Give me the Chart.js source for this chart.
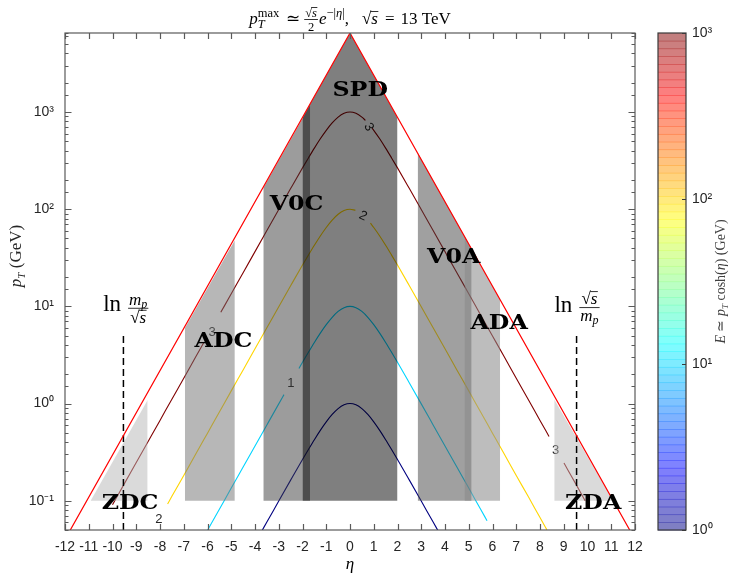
<!DOCTYPE html>
<html>
<head>
<meta charset="utf-8" />
<title>pT max vs eta</title>
<script src="https://cdn.jsdelivr.net/npm/chart.js@4.4.1/dist/chart.umd.min.js"></script>
<style>
  body { margin: 0; background: #fff; }
  canvas { display: block; }
</style>
</head>
<body>
<canvas id="c" width="734" height="575"></canvas>
<script>
// kinematic limit pT = sqrt(s)/2 * exp(-|eta|), sqrt(s) = 13 TeV
const etaEdge = [-12, 0, 12];
const ptEdge = [0.04, 6500, 0.04];

// beam rapidity ln(sqrt(s)/m_p)
const etaBeam = 9.54;
const ptBeamLine = [0.05, 5];

// detector acceptance patches (eta, upper pT), filled down to 0.1 GeV
const detNames = ['ADA', 'V0A', 'SPD', 'V0C', 'ADC', 'ZDC', 'ZDA'];
const detEta = [[4.82, 6.32], [2.85, 5.12], [-2, 0, 2], [-3.65, -1.68], [-6.95, -4.85], [-10.92, -8.52], [8.6, 11.08]];
const detTop = [[52, 11.7], [380, 39], [880, 6500, 880], [165, 1180], [6.0, 48], [0.1, 1.09], [1.1, 0.1]];
const detFill = ['rgba(137,137,137,0.56)', 'rgba(65,65,65,0.5)', 'rgba(0,0,0,0.5)', 'rgba(58,58,58,0.5)',
                 'rgba(112,112,112,0.5)', 'rgba(182,182,182,0.5)', 'rgba(182,182,182,0.5)'];
const detFloor = 0.1;

// detector name positions (centre eta, baseline pT)
const tagNames = ['SPD', 'V0C', 'V0A', 'ADC', 'ADA', 'ZDC', 'ZDA'];
const tagEta = [0.43, -2.25, 4.37, -5.33, 6.28, -9.26, 10.24];
const tagPt = [1475, 99, 28.1, 3.79, 5.8, 0.082, 0.082];

// iso-energy contours E = pT cosh(eta) (null = label gap)
const etaE1 = [-3.7, -3.5, -3, -2.5, -2, -1.75, -1.5, -1.25, -1, -0.75, -0.5, -0.25, 0, 0.25, 0.5, 0.75, 1, 1.25, 1.5, 1.75, 2, 2.5, 3, 3.5, 3.7];
const ptE1 = [0.0495, 0.0603, 0.0993, 0.163, 0.266, 0.337, 0.425, 0.530, 0.648, 0.772, 0.887, 0.970, 1, 0.970, 0.887, 0.772, 0.648, 0.530, 0.425, 0.337, 0.266, 0.163, 0.0993, 0.0603, 0.0495];

const etaE10 = [-6, -5.5, -5, -4.5, -4, -3.5, -3, -2.78, -2.5, -2.15, -2, -1.75, -1.5, -1.25, -1, -0.75, -0.5, -0.25, 0, 0.25, 0.5, 0.75, 1, 1.25, 1.5, 1.75, 2, 2.5, 3, 3.5, 4, 4.5, 5, 5.5, 5.77];
const ptE10 = [0.0496, 0.0817, 0.135, 0.222, 0.366, 0.603, 0.993, 1.236, null, 2.30, 2.66, 3.37, 4.25, 5.30, 6.48, 7.72, 8.87, 9.70, 10, 9.70, 8.87, 7.72, 6.48, 5.30, 4.25, 3.37, 2.66, 1.63, 0.993, 0.603, 0.366, 0.222, 0.135, 0.0817, 0.0624];

const etaE100 = [-7.68, -7.5, -7, -6.5, -6, -5.5, -5, -4.5, -4, -3.5, -3, -2.5, -2, -1.75, -1.5, -1.25, -1, -0.75, -0.5, -0.25, 0, 0.23, 0.5, 0.86, 1, 1.25, 1.5, 1.75, 2, 2.5, 3, 3.5, 4, 4.5, 5, 5.5, 6, 6.5, 7, 7.5, 8, 8.29];
const ptE100 = [0.0924, 0.111, 0.182, 0.301, 0.496, 0.817, 1.35, 2.22, 3.66, 6.03, 9.93, 16.3, 26.6, 33.7, 42.5, 53.0, 64.8, 77.2, 88.7, 97.0, 100, 97.4, null, 71.8, 64.8, 53.0, 42.5, 33.7, 26.6, 16.3, 9.93, 6.03, 3.66, 2.22, 1.35, 0.817, 0.496, 0.301, 0.182, 0.111, 0.0671, 0.0502];

const etaE1000 = [-10, -9.5, -9, -8.5, -8, -7.5, -7, -6.5, -6.15, -5.8, -5.44, -5, -4.5, -4, -3.5, -3, -2.5, -2, -1.75, -1.5, -1.25, -1, -0.75, -0.5, -0.25, 0, 0.25, 0.5, 0.65, 0.8, 0.93, 1, 1.25, 1.5, 1.75, 2, 2.5, 3, 3.5, 4, 4.5, 5, 5.5, 6, 6.5, 7, 7.5, 8, 8.38, 8.7, 9.01, 9.5, 9.9];
const ptE1000 = [0.0908, 0.150, 0.247, 0.407, 0.671, 1.11, 1.82, 3.01, 4.27, null, 8.68, 13.5, 22.2, 36.6, 60.3, 99.3, 163, 266, 337, 425, 530, 648, 772, 887, 970, 1000, 970, 887, 820, null, 683, 648, 530, 425, 337, 266, 163, 99.3, 60.3, 36.6, 22.2, 13.5, 8.17, 4.96, 3.01, 1.82, 1.11, 0.671, 0.459, null, 0.244, 0.150, 0.100];

// contour labels (log10 E)
const cLabelText = ['3', '2', '1', '3', '3', '2'];
const cLabelEta = [0.79, 0.55, -2.49, -5.81, 8.66, -8.05];
const cLabelPt = [700, 85, 1.62, 5.44, 0.333, 0.065];
const cLabelRot = [60, 25, 0, 0, 0, 0];

// colorbar
const cbMin = 1, cbMax = 1000;

function jet(v) {
  const cl = t => Math.max(0, Math.min(1, t));
  return [cl(1.5 - Math.abs(4 * v - 3)), cl(1.5 - Math.abs(4 * v - 2)), cl(1.5 - Math.abs(4 * v - 1))];
}
function jetCss(v, a) {
  const c = jet(v).map(t => Math.round(t * 255));
  return a === undefined ? `rgb(${c[0]},${c[1]},${c[2]})` : `rgba(${c[0]},${c[1]},${c[2]},${a})`;
}
const pts = (xs, ys) => xs.map((x, i) => ({ x: x, y: ys[i] }));
const sup = { '0': '⁰', '1': '¹', '2': '²', '3': '³', '-': '⁻' };
function powLabel(v) {
  const l = Math.log10(v);
  if (Math.abs(l - Math.round(l)) > 1e-9) return '';
  return '10' + String(Math.round(l)).split('').map(ch => sup[ch]).join('');
}

const datasets = [];
datasets.push({ data: pts(etaEdge, ptEdge), borderColor: '#ff0000', borderWidth: 1.2 });
datasets.push({ data: pts([-etaBeam, -etaBeam], ptBeamLine), borderColor: '#000', borderWidth: 1.5, borderDash: [7, 4] });
datasets.push({ data: pts([etaBeam, etaBeam], ptBeamLine), borderColor: '#000', borderWidth: 1.5, borderDash: [7, 4] });
detNames.forEach((n, i) => {
  datasets.push({ label: n, data: pts(detEta[i], detTop[i]), borderWidth: 0, borderColor: 'rgba(0,0,0,0)',
                  backgroundColor: detFill[i], fill: { value: detFloor } });
});
const IDX_LAST_CONTOUR = datasets.length;
[[etaE1000, ptE1000, 1], [etaE100, ptE100, 2 / 3], [etaE10, ptE10, 1 / 3], [etaE1, ptE1, 0]].forEach(c => {
  datasets.push({ data: pts(c[0], c[1]), borderColor: jetCss(c[2]), borderWidth: 1.1, cubicInterpolationMode: 'monotone' });
});
datasets.forEach(d => { d.pointRadius = 0; d.xAxisID = 'x'; d.yAxisID = 'y'; });

// ---- little math-text helper ----
const F = (style, size) => `${style} ${size}px "Liberation Serif"`;
function rich(ctx, items, x, y, draw) {
  let cx = x;
  for (const it of items) {
    const dy = it.dy || 0;
    if (it.sp !== undefined) {
      cx += it.sp;
    } else if (it.t !== undefined) {
      ctx.font = it.f;
      if (draw) ctx.fillText(it.t, cx, y + dy);
      cx += ctx.measureText(it.t).width;
    } else if (it.stack) {
      let w = 0;
      for (const s of it.stack) w = Math.max(w, rich(ctx, [s], cx, y, draw));
      cx += w;
    } else if (it.frac) {
      const wn = rich(ctx, it.frac.num, 0, 0, false), wd = rich(ctx, it.frac.den, 0, 0, false);
      const w = Math.max(wn, wd) + 2;
      if (draw) {
        rich(ctx, it.frac.num, cx + (w - wn) / 2, y + it.numDy, true);
        rich(ctx, it.frac.den, cx + (w - wd) / 2, y + it.denDy, true);
        ctx.fillRect(cx, y + it.barDy, w, 0.8);
      }
      cx += w + 1;
    } else if (it.sqrt) {
      ctx.font = it.f;
      const rw = ctx.measureText('√').width;
      const iw = rich(ctx, it.sqrt, 0, 0, false);
      if (draw) {
        ctx.font = it.f;
        ctx.fillText('√', cx, y + dy);
        rich(ctx, it.sqrt, cx + rw, y + dy, true);
        ctx.fillRect(cx + rw - 0.6, y + dy - it.top, iw + 1, 0.8);
      }
      cx += rw + iw;
    }
  }
  return cx - x;
}
function richAt(ctx, items, x, y, align) {
  const w = rich(ctx, items, 0, 0, false);
  const x0 = align === 'center' ? x - w / 2 : x;
  rich(ctx, items, x0, y, true);
}

const titleItems = [
  { t: 'p', f: F('italic', 17) },
  { stack: [{ t: 'max', f: F('normal', 12.5), dy: -7.5 }, { t: 'T', f: F('italic', 12.5), dy: 4 }] },
  { sp: 7 }, { t: '≃', f: F('normal', 17) }, { sp: 4 },
  { frac: { num: [{ sqrt: [{ t: 's', f: F('italic', 12.5) }], f: F('normal', 12.5), top: 10 }], den: [{ t: '2', f: F('normal', 12.5) }] }, numDy: -7, denDy: 6.5, barDy: -5 },
  { t: 'e', f: F('italic', 17) },
  { t: '−|', f: F('normal', 12.5), dy: -7.5 }, { t: 'η', f: F('italic', 12.5), dy: -7.5 }, { t: '|', f: F('normal', 12.5), dy: -7.5 },
  { t: ',', f: F('normal', 17) }, { sp: 13 },
  { sqrt: [{ t: 's', f: F('italic', 17) }], f: F('normal', 17), top: 13 },
  { sp: 7 }, { t: '=', f: F('normal', 17) }, { sp: 6 },
  { t: '13 TeV', f: F('normal', 17) }
];
const mpOverRs = [
  { t: 'ln', f: F('normal', 23) }, { sp: 7 },
  { frac: { num: [{ t: 'm', f: F('italic', 17) }, { t: 'p', f: F('italic', 12), dy: 3 }],
            den: [{ sqrt: [{ t: 's', f: F('italic', 17) }], f: F('normal', 17), top: 13 }] }, numDy: -6, denDy: 12, barDy: -3 }
];
const rsOverMp = [
  { t: 'ln', f: F('normal', 23) }, { sp: 7 },
  { frac: { num: [{ sqrt: [{ t: 's', f: F('italic', 17) }], f: F('normal', 17), top: 13 }],
            den: [{ t: 'm', f: F('italic', 17) }, { t: 'p', f: F('italic', 12), dy: 3 }] }, numDy: -8, denDy: 9, barDy: -5 }
];
const yTitle = [{ t: 'p', f: F('italic', 17) }, { t: 'T', f: F('italic', 11), dy: 4 }, { t: ' (GeV)', f: F('normal', 17) }];
const cbTitle = [{ t: 'E', f: F('italic', 14) }, { t: ' ≃ ', f: F('normal', 14) }, { t: 'p', f: F('italic', 14) },
                 { t: 'T', f: F('italic', 9), dy: 3 }, { t: ' cosh(', f: F('normal', 14) }, { t: 'η', f: F('italic', 14) },
                 { t: ') (GeV)', f: F('normal', 14) }];

const overlay = {
  id: 'overlay',
  afterDatasetDraw(chart, args) {
    if (args.index !== IDX_LAST_CONTOUR) return;
    const ctx = chart.ctx, xs = chart.scales.x, ys = chart.scales.y;
    ctx.save();
    ctx.fillStyle = '#262626';
    ctx.font = '13px "Liberation Sans"';
    ctx.textAlign = 'center';
    ctx.textBaseline = 'middle';
    cLabelText.forEach((t, i) => {
      ctx.save();
      ctx.translate(xs.getPixelForValue(cLabelEta[i]), ys.getPixelForValue(cLabelPt[i]));
      ctx.rotate(cLabelRot[i] * Math.PI / 180);
      ctx.fillText(t, 0, 0);
      ctx.restore();
    });
    ctx.restore();
  },
  afterDraw(chart) {
    const ctx = chart.ctx, a = chart.chartArea;
    const xs = chart.scales.x, ys = chart.scales.y, cb = chart.scales.cb;
    ctx.save();
    // detector names
    ctx.fillStyle = '#000';
    ctx.font = 'bold 21px "DejaVu Serif"';
    ctx.textAlign = 'center';
    ctx.textBaseline = 'alphabetic';
    tagNames.forEach((n, i) => {
      ctx.save();
      ctx.translate(xs.getPixelForValue(tagEta[i]), ys.getPixelForValue(tagPt[i]));
      ctx.scale(1.13, 1);
      ctx.fillText(n, 0, 0);
      ctx.restore();
    });
    ctx.textAlign = 'left';
    richAt(ctx, mpOverRs, xs.getPixelForValue(-9.42), ys.getPixelForValue(9.0), 'center');
    richAt(ctx, rsOverMp, xs.getPixelForValue(9.58), ys.getPixelForValue(8.7), 'center');

    // axes box and inward ticks
    ctx.strokeStyle = '#5a5a5a';
    ctx.lineWidth = 1.2;
    ctx.strokeRect(a.left, a.top, a.right - a.left, a.bottom - a.top);
    ctx.beginPath();
    xs.ticks.forEach(t => {
      const px = Math.round(xs.getPixelForValue(t.value)) + 0.5;
      ctx.moveTo(px, a.bottom); ctx.lineTo(px, a.bottom - 6);
      ctx.moveTo(px, a.top); ctx.lineTo(px, a.top + 6);
    });
    ys.ticks.forEach(t => {
      const py = Math.round(ys.getPixelForValue(t.value)) + 0.5;
      const len = powLabel(t.value) ? 6.5 : 3.5;
      ctx.moveTo(a.left, py); ctx.lineTo(a.left + len, py);
      ctx.moveTo(a.right, py); ctx.lineTo(a.right - len, py);
    });
    ctx.stroke();

    // colorbar
    const bx0 = cb.left + 23, bx1 = cb.left + 51;
    const byT = cb.getPixelForValue(cbMax), byB = cb.getPixelForValue(cbMin);
    const nb = 64, bh = (byB - byT) / nb;
    for (let k = 0; k < nb; k++) {
      ctx.fillStyle = jetCss((k + 0.5) / nb, 0.5);
      ctx.fillRect(bx0, byB - (k + 1) * bh, bx1 - bx0, bh + 0.6);
    }
    ctx.strokeStyle = '#3a3a3a';
    ctx.strokeRect(bx0, byT, bx1 - bx0, byB - byT);
    ctx.beginPath();
    cb.ticks.forEach(t => {
      if (!powLabel(t.value)) return;
      const py = Math.round(cb.getPixelForValue(t.value)) + 0.5;
      ctx.moveTo(bx1, py); ctx.lineTo(bx1 - 4, py);
    });
    ctx.stroke();

    // titles
    ctx.fillStyle = '#000';
    richAt(ctx, titleItems, (a.left + a.right) / 2, 24, 'center');
    ctx.font = F('italic', 17);
    ctx.textAlign = 'center';
    ctx.fillText('η', (a.left + a.right) / 2, 569);
    ctx.textAlign = 'left';
    ctx.save();
    ctx.translate(21, 256);
    ctx.rotate(-Math.PI / 2);
    ctx.fillStyle = '#262626';
    richAt(ctx, yTitle, 0, 0, 'center');
    ctx.restore();
    ctx.save();
    ctx.translate(cb.left + 90, (byT + byB) / 2);
    ctx.rotate(-Math.PI / 2);
    ctx.fillStyle = '#404040';
    richAt(ctx, cbTitle, 0, 0, 'center');
    ctx.restore();
    ctx.restore();
  }
};

// keep the plot box where the reference has it: no end-label padding
const noPadV = s => { s.paddingTop = 0; s.paddingBottom = 0; };

Chart.defaults.font.family = '"Liberation Sans"';
new Chart(document.getElementById('c'), {
  type: 'line',
  data: { datasets: datasets },
  options: {
    responsive: false,
    animation: false,
    events: [],
    layout: { padding: { top: 33, left: 0, right: 0, bottom: 0 } },
    plugins: { legend: { display: false }, tooltip: { enabled: false }, title: { display: false } },
    scales: {
      x: {
        type: 'linear', min: -12, max: 12,
        grid: { display: false, drawTicks: false }, border: { display: false },
        ticks: { stepSize: 1, autoSkip: false, maxRotation: 0, padding: 9, color: '#262626', font: { size: 14 } },
        afterFit: s => { s.height = 45; s.paddingLeft = 0; s.paddingRight = 0; }
      },
      y: {
        type: 'logarithmic', min: 0.05, max: 6500,
        grid: { display: false, drawTicks: false }, border: { display: false },
        ticks: { autoSkip: false, padding: 11, color: '#262626', font: { size: 14 }, callback: v => powLabel(v) },
        afterFit: s => { s.width = 65; noPadV(s); }
      },
      cb: {
        type: 'logarithmic', position: 'right', min: cbMin, max: cbMax,
        grid: { display: false, drawTicks: false }, border: { display: false },
        ticks: { autoSkip: false, padding: 57, color: '#262626', font: { size: 14 }, callback: v => powLabel(v) },
        afterFit: s => { s.width = 99; noPadV(s); }
      }
    }
  },
  plugins: [overlay]
});
</script>
</body>
</html>
